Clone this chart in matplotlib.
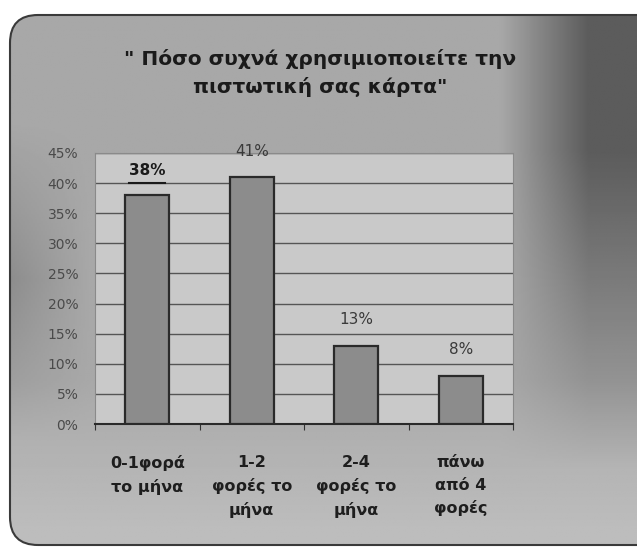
import numpy as np
import matplotlib.pyplot as plt
from matplotlib.patches import FancyBboxPatch
from matplotlib.ticker import PercentFormatter

# Survey data
categories = ["0-1φορά\nτο μήνα", "1-2\nφορές το\nμήνα", "2-4\nφορές το\nμήνα", "πάνω\nαπό 4\nφορές"]
values = [0.38, 0.41, 0.13, 0.08]
value_labels = ["38%", "41%", "13%", "8%"]
title = "\" Πόσο συχνά χρησιμιοποιείτε την\nπιστωτική σας κάρτα\""

W, H = 637, 551
fig = plt.figure(figsize=(W / 100, H / 100), dpi=100)
fig.patch.set_facecolor("white")

# background panel with a grey gradient (scanned look)
bg = fig.add_axes([0, 0, 1, 1])
bg.set_xlim(0, W)
bg.set_ylim(0, H)
bg.axis("off")
xx, yy = np.meshgrid(np.linspace(0, W, 320), np.linspace(H, 0, 280))
top = (H - yy)  # distance from top in px
shade = np.full_like(xx, 0.66)
right = np.clip((xx - 500) / 90, 0, 1)
band = np.clip(1 - (top - 150) / 320, 0, 1)
shade -= 0.30 * right * band
shade += 0.08 * np.clip((top - 380) / 150, 0, 1)
left = np.clip(1 - xx / 90, 0, 1) * np.clip(1 - np.abs(top - 280) / 160, 0, 1)
shade -= 0.12 * left
shade = np.clip(shade, 0, 1)
panel = FancyBboxPatch((10, 6), W + 30, 530, boxstyle="round,pad=0,rounding_size=28",
                       facecolor="none", edgecolor="#3a3a3a", linewidth=1.5, zorder=3)
bg.add_patch(panel)
im = bg.imshow(shade, cmap="gray", vmin=0, vmax=1, extent=[0, W, 0, H],
               aspect="auto", zorder=1)
im.set_clip_path(panel)

fig.text(0.503, 0.867, title, ha="center", va="center", fontsize=14.5,
         fontweight="bold", color="#1a1a1a", linespacing=1.5, family="DejaVu Sans")

# main chart
ax = fig.add_axes([95 / W, (H - 424) / H, (513 - 95) / W, (424 - 153) / H])
ax.set_facecolor("#c9c9c9")
x = np.arange(len(categories))
ax.bar(x, values, width=0.42, color="#8c8c8c", edgecolor="#2a2a2a", linewidth=1.6, zorder=3)
ax.set_xlim(-0.5, len(categories) - 0.5)
ax.set_ylim(0, 0.45)
ax.set_yticks(np.arange(0, 0.451, 0.05))
ax.yaxis.set_major_formatter(PercentFormatter(1.0, decimals=0))
ax.grid(axis="y", color="#555555", linewidth=1.0, zorder=1)
ax.tick_params(axis="y", length=0, labelsize=10, labelcolor="#4a4a4a", pad=12)
ax.set_xticks(np.arange(-0.5, len(categories), 1.0))
ax.set_xticklabels([])
ax.tick_params(axis="x", length=4, color="#333333", direction="out")
for s in ["top", "right", "left"]:
    ax.spines[s].set_color("#8a8a8a")
ax.spines["bottom"].set_color("#2a2a2a")
ax.spines["bottom"].set_linewidth(1.5)

# value labels
for i, (v, lab) in enumerate(zip(values, value_labels)):
    if i == 0:
        ax.text(i, v + 0.041, lab, ha="center", va="center", fontsize=11,
                fontweight="bold", color="#1a1a1a", zorder=5)
        ax.plot([i - 0.17, i + 0.17], [v + 0.02, v + 0.02], color="#1a1a1a", lw=1.5, zorder=5)
    else:
        ax.text(i, v + 0.043, lab, ha="center", va="center", fontsize=11,
                color="#3a3a3a", zorder=5, clip_on=False)

# category labels
for i, c in enumerate(categories):
    ax.text(i, -0.052, c, ha="center", va="top", fontsize=11.5, fontweight="bold",
            color="#1e1e1e", linespacing=1.6, clip_on=False)

plt.savefig("out.png", dpi=100)
